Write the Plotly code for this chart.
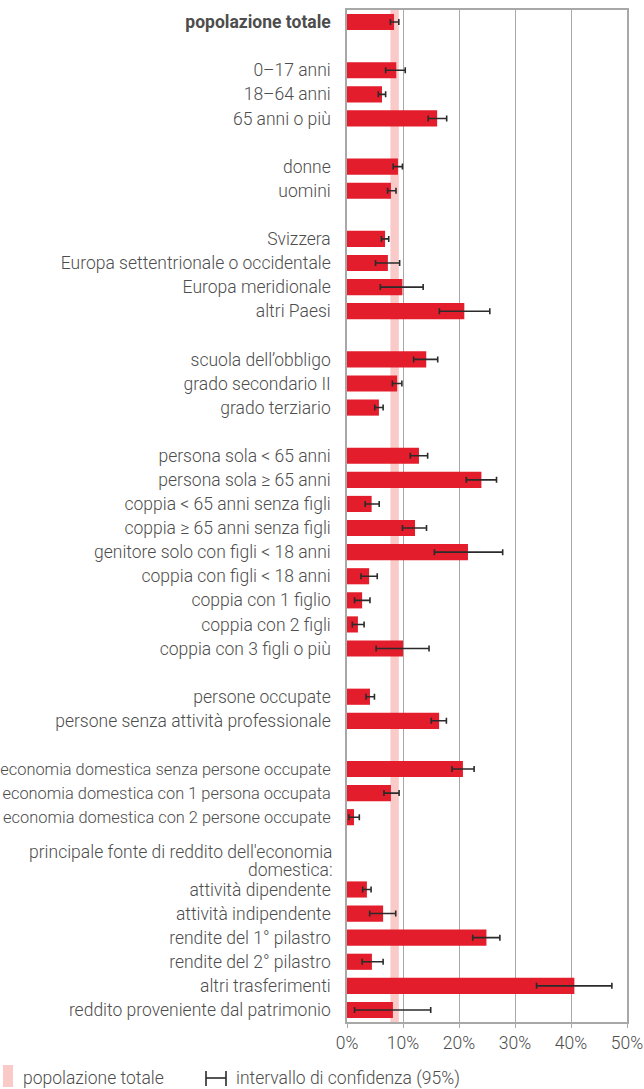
import plotly.graph_objects as go

# None label = empty separator row; value None = no bar
labels = [
    "<b>popolazione totale</b>", None,
    "0\u201317 anni", "18\u201364 anni", "65 anni o più", None,
    "donne", "uomini", None,
    "Svizzera", "Europa settentrionale o occidentale", "Europa meridionale", "altri Paesi", None,
    "scuola dell’obbligo", "grado secondario II", "grado terziario", None,
    "persona sola < 65 anni", "persona sola ≥ 65 anni", "coppia < 65 anni senza figli",
    "coppia ≥ 65 anni senza figli", "genitore solo con figli < 18 anni", "coppia con figli < 18 anni",
    "coppia con 1 figlio", "coppia con 2 figli", "coppia con 3 figli o più", None,
    "persone occupate", "persone senza attività professionale", None,
    "economia domestica senza persone occupate", "economia domestica con 1 persona occupata",
    "economia domestica con 2 persone occupate", None,
    None,
    "attività dipendente", "attività indipendente", "rendite del 1° pilastro",
    "rendite del 2° pilastro", "altri trasferimenti", "reddito proveniente dal patrimonio",
]
heading_lines = ["principale fonte di reddito dell'economia", "domestica:"]
values = [
    8.4, None,
    8.8, 6.25, 16.1, None,
    9.1, 7.85, None,
    6.8, 7.3, 9.9, 20.95, None,
    14.15, 8.95, 5.7, None,
    12.85, 24.0, 4.4, 12.15, 21.6, 3.95, 2.7, 1.95, 10.0, None,
    4.1, 16.45, None,
    20.7, 7.85, 1.25, None,
    None,
    3.55, 6.45, 24.9, 4.45, 40.6, 8.2,
]
ci_low = [
    7.75, None,
    6.9, 5.6, 14.5, None,
    8.25, 7.25, None,
    6.15, 5.1, 5.95, 16.5, None,
    11.9, 8.1, 4.95, None,
    11.3, 21.3, 3.25, 9.9, 15.6, 2.5, 1.35, 0.95, 5.2, None,
    3.4, 15.05, None,
    18.75, 6.6, 0.35, None,
    None,
    2.8, 4.05, 22.45, 2.7, 33.85, 1.35,
]
ci_high = [
    9.25, None,
    10.4, 6.9, 17.8, None,
    9.9, 8.75, None,
    7.45, 9.4, 13.6, 25.5, None,
    16.2, 9.8, 6.45, None,
    14.4, 26.7, 5.75, 14.2, 27.8, 5.4, 4.1, 3.05, 14.65, None,
    4.9, 17.75, None,
    22.7, 9.3, 2.2, None,
    None,
    4.3, 8.7, 27.3, 6.45, 47.3, 14.95,
]
x_tickvals = [0, 10, 20, 30, 40, 50]
x_ticktext = ["0%", "10%", "20%", "30%", "40%", "50%"]

RED = "#E31D2B"
PINK = "#F9CAC8"
GRID = "#A8A8A8"
TXT = "#4D4D4D"
FONT = "Roboto"
FS = 17.5
FS_LONG = 16.4   # the longest labels are set slightly tighter in the original

pos = list(range(len(labels)))
bar_y = [p for p, v in zip(pos, values) if v is not None]
bar_x = [v for v in values if v is not None]
err_plus = [h - v for v, h in zip(values, ci_high) if v is not None]
err_minus = [v - l for v, l in zip(values, ci_low) if v is not None]
tick_pos = [p for p, l in zip(pos, labels) if l is not None]
tick_txt = [
    (f'<span style="font-size:{FS_LONG}px">{l}</span>' if l.startswith("economia") else l)
    for l in labels if l is not None
]

fig = go.Figure()
fig.add_trace(go.Bar(
    x=bar_x, y=bar_y, orientation="h", width=0.67,
    marker=dict(color=RED, line=dict(width=0)),
    error_x=dict(type="data", symmetric=False, array=err_plus, arrayminus=err_minus,
                 color="#2B2B2B", thickness=1.6, width=3),
    showlegend=False, hoverinfo="x+y",
))

# total population confidence band
fig.add_shape(type="rect", xref="x", yref="paper", x0=ci_low[0], x1=ci_high[0], y0=0, y1=1,
              fillcolor=PINK, line=dict(width=0), layer="below")

# pixel helpers (plot area 347..627 x 10..1022)
PX0, PW, PY1, PH = 347, 280, 1022, 1012
def px(x):
    return (x - PX0) / PW
def py(y):
    return (PY1 - y) / PH

lab_font = dict(family=FONT, size=FS, color=TXT, weight=300)

# two-line heading for the last group
for line, yy in zip(heading_lines, (852, 870)):
    fig.add_annotation(xref="paper", yref="paper", x=px(335), y=py(yy), text=line,
                       showarrow=False, xanchor="right", yanchor="middle", font=lab_font)

# legend drawn manually
fig.add_shape(type="rect", xref="paper", yref="paper", x0=px(3), x1=px(13), y0=py(1087), y1=py(1065),
              fillcolor=PINK, line=dict(width=0))
fig.add_annotation(xref="paper", yref="paper", x=px(21), y=py(1078), text="popolazione totale",
                   showarrow=False, xanchor="left", yanchor="middle", font=lab_font)
fig.add_shape(type="line", xref="paper", yref="paper", x0=px(206), x1=px(226), y0=py(1078), y1=py(1078),
              line=dict(color="#2B2B2B", width=1.6))
for xx in (206, 226):
    fig.add_shape(type="line", xref="paper", yref="paper", x0=px(xx), x1=px(xx), y0=py(1071), y1=py(1086),
                  line=dict(color="#2B2B2B", width=1.6))
fig.add_annotation(xref="paper", yref="paper", x=px(234), y=py(1078), text="intervallo di confidenza (95%)",
                   showarrow=False, xanchor="left", yanchor="middle", font=lab_font)

fig.update_layout(
    width=644, height=1089, autosize=False,
    margin=dict(l=347, r=17, t=10, b=67, autoexpand=False),
    plot_bgcolor="white", paper_bgcolor="white",
    font=dict(family=FONT, size=FS, color=TXT),
)
fig.update_xaxes(
    range=[0, 50], tickvals=x_tickvals, ticktext=x_ticktext,
    showgrid=True, gridcolor=GRID, gridwidth=1.2,
    showline=True, linecolor=GRID, linewidth=1.5, mirror=True,
    ticks="outside", ticklen=4, tickcolor=GRID, tickwidth=1.2,
    tickfont=lab_font, automargin=False,
    zeroline=False, fixedrange=True,
)
fig.update_yaxes(
    range=[len(labels) - 0.5, -0.5], tickvals=tick_pos, ticktext=tick_txt,
    showgrid=False, showline=True, linecolor=GRID, linewidth=1.5, mirror=True,
    ticks="", ticklabelstandoff=11,
    tickfont=lab_font, automargin=False,
    zeroline=False, fixedrange=True,
)

fig.write_html("out.html", config={"displayModeBar": False},
               post_script="document.body.style.margin='0';document.body.style.overflow='hidden';")
